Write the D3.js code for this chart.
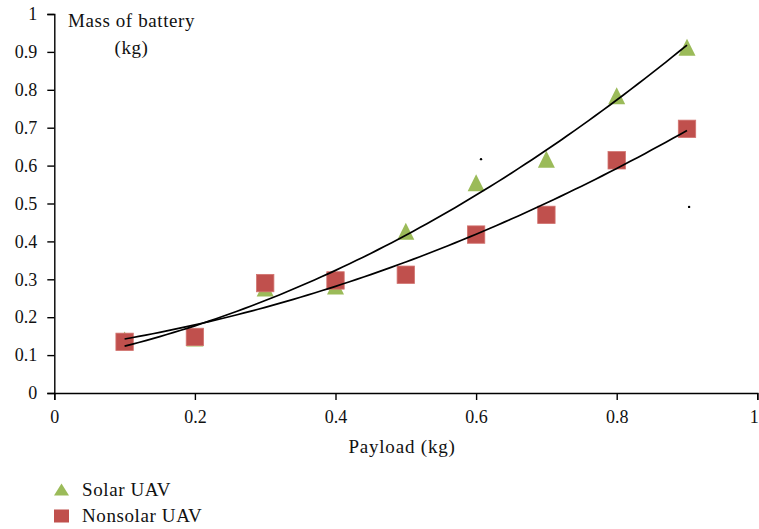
<!DOCTYPE html>
<html>
<head>
<meta charset="utf-8">
<script src="https://cdn.jsdelivr.net/npm/d3@7"></script>
<style>
  html, body { margin: 0; padding: 0; background: #fff; }
  svg { display: block; }
  text { font-family: "Liberation Serif", "Times New Roman", serif; fill: #111; }
</style>
</head>
<body>
<svg id="chart" width="759" height="529"></svg>
<script>
// Payload values (kg)
const payload = [0.1, 0.2, 0.3, 0.4, 0.5, 0.6, 0.7, 0.8, 0.9];
// Battery mass (kg) for each payload
const solarMass    = [0.14, 0.145, 0.277, 0.282, 0.427, 0.555, 0.617, 0.784, 0.912];
const nonsolarMass = [0.135, 0.148, 0.290, 0.297, 0.312, 0.418, 0.470, 0.614, 0.697];
// Two isolated dots in the plot area
const strayX = [0.607, 0.903];
const strayY = [0.617, 0.491];
// Axis ticks
const xTicks = [0, 0.2, 0.4, 0.6, 0.8, 1];
const yTicks = [0, 0.1, 0.2, 0.3, 0.4, 0.5, 0.6, 0.7, 0.8, 0.9, 1];
const seriesNames = ["Solar UAV", "Nonsolar UAV"];
const green = "#9BBB59", red = "#C0504D";

const svg = d3.select("#chart");
const x = d3.scaleLinear().domain([0, 1]).range([54.3, 757.3]);
const y = d3.scaleLinear().domain([0, 1]).range([393, 14]);

// Second-order least-squares polynomial fit
function quadFit(xs, ys) {
  const s = [0, 0, 0, 0, 0], t = [0, 0, 0];
  xs.forEach((xi, i) => {
    for (let k = 0; k < 5; k++) s[k] += Math.pow(xi, k);
    for (let k = 0; k < 3; k++) t[k] += Math.pow(xi, k) * ys[i];
  });
  const M = [[s[0], s[1], s[2], t[0]], [s[1], s[2], s[3], t[1]], [s[2], s[3], s[4], t[2]]];
  for (let i = 0; i < 3; i++) {
    for (let j = i + 1; j < 3; j++) {
      const f = M[j][i] / M[i][i];
      for (let k = i; k < 4; k++) M[j][k] -= f * M[i][k];
    }
  }
  const c = [0, 0, 0];
  for (let i = 2; i >= 0; i--) {
    let v = M[i][3];
    for (let k = i + 1; k < 3; k++) v -= M[i][k] * c[k];
    c[i] = v / M[i][i];
  }
  return xv => c[0] + c[1] * xv + c[2] * xv * xv;
}

// Axes
const xAxis = d3.axisBottom(x).tickValues(xTicks).tickSize(7).tickPadding(10)
  .tickFormat(d => d3.format("~g")(d));
const yAxis = d3.axisLeft(y).tickValues(yTicks).tickSize(7).tickPadding(10)
  .tickFormat(d => d3.format("~g")(d));

const gx = svg.append("g").attr("transform", `translate(0,${y(0)})`).call(xAxis);
const gy = svg.append("g").attr("transform", `translate(${x(0)},0)`).call(yAxis);
[gx, gy].forEach(g => {
  g.select(".domain").attr("stroke", "#000").attr("stroke-width", 1.4);
  g.selectAll(".tick line").attr("stroke", "#000").attr("stroke-width", 1.4);
  g.selectAll(".tick text").attr("font-size", 18).attr("font-family", "Liberation Serif").attr("fill", "#111");
});
// keep the last x label inside the canvas
gx.selectAll(".tick text").filter(d => d === 1).attr("dx", -3.5);

// Markers
const sq = 17.4, tw = 17, th = 17;
const triPath = (cx, cy, w, h) => `M${cx},${cy - h / 2}L${cx + w / 2},${cy + h / 2}L${cx - w / 2},${cy + h / 2}Z`;

svg.append("g").selectAll("path").data(payload).join("path")
  .attr("d", (d, i) => triPath(x(d), y(solarMass[i]), tw, th))
  .attr("fill", green);

svg.append("g").selectAll("rect").data(payload).join("rect")
  .attr("x", d => x(d) - sq / 2)
  .attr("y", (d, i) => y(nonsolarMass[i]) - sq / 2)
  .attr("width", sq).attr("height", sq)
  .attr("fill", red).attr("stroke", "#D27470").attr("stroke-width", 0.8);

// Trend lines
const line = d3.line().x(d => x(d[0])).y(d => y(d[1]));
[solarMass, nonsolarMass].forEach(ys => {
  const f = quadFit(payload, ys);
  const pts = d3.range(0, 81).map(i => {
    const xv = payload[0] + (payload[payload.length - 1] - payload[0]) * i / 80;
    return [xv, f(xv)];
  });
  svg.append("path").attr("d", line(pts)).attr("fill", "none")
    .attr("stroke", "#000").attr("stroke-width", 1.7);
});

// Stray dots
svg.append("g").selectAll("circle").data(strayX).join("circle")
  .attr("cx", d => x(d)).attr("cy", (d, i) => y(strayY[i])).attr("r", 1.2).attr("fill", "#000");

// Axis titles
const yt = svg.append("text").attr("x", 131.5).attr("y", 27).attr("text-anchor", "middle")
  .attr("font-size", 19).attr("letter-spacing", 0.6);
yt.append("tspan").attr("x", 131.5).text("Mass of battery");
yt.append("tspan").attr("x", 131.5).attr("dy", 27).text("(kg)");

svg.append("text").attr("x", 402).attr("y", 453).attr("text-anchor", "middle")
  .attr("font-size", 19).attr("letter-spacing", 0.8).text("Payload (kg)");

// Legend
const lg = svg.append("g");
lg.append("path").attr("d", triPath(61.5, 489.5, 15, 12)).attr("fill", green);
lg.append("rect").attr("x", 54).attr("y", 509.5).attr("width", 15).attr("height", 13).attr("fill", red);
seriesNames.forEach((name, i) => {
  lg.append("text").attr("x", 82).attr("y", 496 + i * 25.5).attr("font-size", 19)
    .attr("letter-spacing", 0.6).text(name);
});
</script>
</body>
</html>
